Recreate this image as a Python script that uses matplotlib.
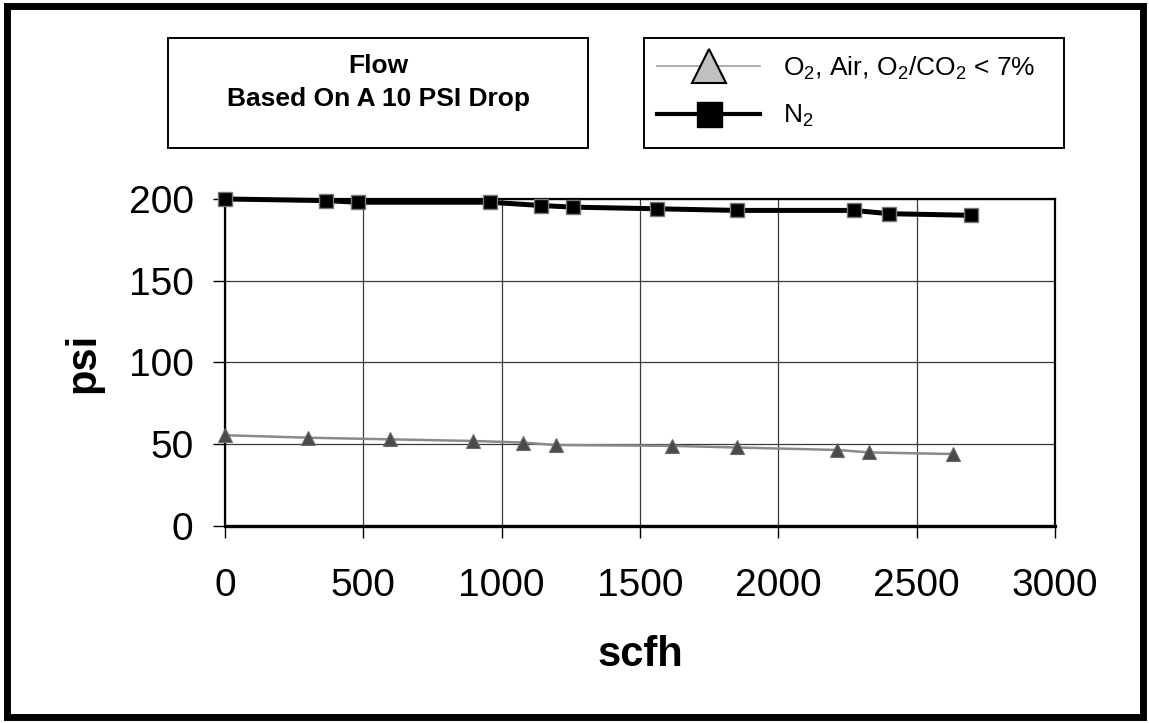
import matplotlib
matplotlib.use("Agg")
import matplotlib.pyplot as plt
from matplotlib.lines import Line2D
from matplotlib.patches import Rectangle

plt.rcParams["font.family"] = ["Liberation Sans", "DejaVu Sans"]
plt.rcParams["mathtext.fontset"] = "custom"
plt.rcParams["mathtext.rm"] = "Liberation Sans"
plt.rcParams["mathtext.it"] = "Liberation Sans"
plt.rcParams["mathtext.bf"] = "Liberation Sans:bold"

# flow (scfh) vs pressure (psi)
n2_scfh = [0, 365, 481, 958, 1142, 1258, 1561, 1850, 2273, 2400, 2696]
n2_psi = [200, 199, 198, 198, 196, 195, 194, 193, 193, 191, 190]

o2_scfh = [0, 300, 596, 897, 1078, 1197, 1615, 1850, 2212, 2328, 2631]
o2_psi = [55.5, 54, 53, 52, 51, 49.5, 49, 48, 46.5, 45, 44]

x_ticks = [0, 500, 1000, 1500, 2000, 2500, 3000]
y_ticks = [0, 50, 100, 150, 200]

o2_label = "O$_2$, Air, O$_2$/CO$_2$ < 7%"
n2_label = "N$_2$"

fig = plt.figure(figsize=(11.49, 7.23), dpi=100)
ax = fig.add_axes([0.1958, 0.2725, 0.7224, 0.4523])

ax.plot(o2_scfh, o2_psi, color="#8a8a8a", lw=1.8, marker="^", ms=10.5,
        mfc="#4a4a4a", mec="#6a6a6a", mew=0.8, zorder=3, clip_on=False)
ax.plot(n2_scfh, n2_psi, color="black", lw=3.6, marker="s", ms=10,
        mfc="black", mec="#777777", mew=1.0, zorder=4, clip_on=False)

ax.set_xlim(0, 3000)
ax.set_ylim(0, 200)
ax.set_xticks(x_ticks)
ax.set_yticks(y_ticks)
ax.grid(True, color="#3a3a3a", lw=0.9)
ax.set_axisbelow(True)
for side in ["left", "top", "right"]:
    ax.spines[side].set_linewidth(1.6)
ax.spines["bottom"].set_linewidth(2.4)
ax.tick_params(axis="both", direction="out", length=8.6, width=1.0, labelsize=28)
ax.tick_params(axis="x", pad=22)
ax.tick_params(axis="y", pad=14)

ax.set_xlabel("scfh", fontsize=30, fontweight="bold", va="center")
ax.xaxis.set_label_coords(0.5, -0.394)
ax.set_ylabel("psi", fontsize=30, fontweight="bold", va="center")
ax.yaxis.set_label_coords(-0.171, 0.5)

# title box
fig.add_artist(Rectangle((0.1462, 0.7953), 0.3655, 0.1521, transform=fig.transFigure,
                         fill=False, ec="black", lw=1.4))
fig.text(0.329, 0.9087, "Flow", ha="center", va="center", fontsize=19, fontweight="bold")
fig.text(0.329, 0.8631, "Based On A 10 PSI Drop", ha="center", va="center",
         fontsize=19, fontweight="bold")

# legend box
fig.add_artist(Rectangle((0.5605, 0.7953), 0.3655, 0.1521, transform=fig.transFigure,
                         fill=False, ec="black", lw=1.4))
handles = [
    Line2D([], [], color="#a0a0a0", lw=1.2, marker="^", ms=24,
           mfc="#c0c0c0", mec="black", mew=1.5),
    Line2D([], [], color="black", lw=3.0, marker="s", ms=18,
           mfc="black", mec="black"),
]
fig.legend(handles, [o2_label, n2_label], loc="center left",
           bbox_to_anchor=(0.556, 0.8728), frameon=False, fontsize=19,
           handlelength=3.9, handletextpad=0.87, labelspacing=0.8,
           borderpad=0.2)

# outer frame
fig.add_artist(Rectangle((0.0065, 0.0083), 0.9885, 0.9834, transform=fig.transFigure,
                         fill=False, ec="black", lw=5))

fig.savefig("out.png", dpi=100)
